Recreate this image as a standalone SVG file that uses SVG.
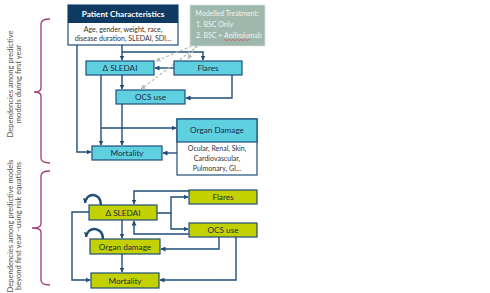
<svg xmlns="http://www.w3.org/2000/svg" width="490" height="293" viewBox="0 0 490 293">
<style>
.ln{fill:none;stroke:#1f4e79;stroke-width:1.4}
.ds{fill:none;stroke:#b3bfbb;stroke-width:1.2;stroke-dasharray:3 2}
.cy{fill:#5fd0e0;stroke:#1f4e79;stroke-width:1.2}
.yg{fill:#c3d100;stroke:#1f4e79;stroke-width:1.2}
.t{font-family:Lato,'Liberation Sans',sans-serif;font-size:8.2px;fill:#1a2e45;text-anchor:middle}
.s{font-family:Lato,'Liberation Sans',sans-serif;font-size:7px;fill:#333;text-anchor:middle}
.br{fill:none;stroke:#a33a74;stroke-width:1.3}
.v{font-family:Lato,'Liberation Sans',sans-serif;font-size:7.6px;fill:#555;text-anchor:middle}
</style>
<defs>
<marker id="a" markerWidth="5" markerHeight="5" refX="4.5" refY="2.5" orient="auto" markerUnits="userSpaceOnUse"><path d="M0,0L5,2.5L0,5z" fill="#1f4e79"/></marker>
<marker id="g" markerWidth="5" markerHeight="5" refX="4.5" refY="2.5" orient="auto" markerUnits="userSpaceOnUse"><path d="M0,0L5,2.5L0,5z" fill="#b3bfbb"/></marker>
</defs>
<rect width="490" height="293" fill="#fff"/>

<g id="braces">
<path class="br" d="M50,19 Q41,19 41,24 V88 Q41,92 34,92 Q41,92 41,96 V158 Q41,163 50,163"/>
<path class="br" d="M50,171 Q41,171 41,176 V224 Q41,228 32,228 Q41,228 41,232 V280 Q41,285 50,285"/>
<text class="v" transform="translate(13,84) rotate(-90)">Dependencies among predictive</text>
<text class="v" transform="translate(21,84) rotate(-90)">models during first year</text>
<text class="v" transform="translate(13,226) rotate(-90)">Dependencies among predictive models</text>
<text class="v" transform="translate(21,226) rotate(-90)">beyond first year –using risk equations</text>
</g>

<g id="connectors">
<path class="ln" d="M122,45 V60" marker-end="url(#a)"/>
<path class="ln" d="M122,52 H203 V60" marker-end="url(#a)"/>
<path class="ln" d="M77,45 V152 H91" marker-end="url(#a)"/>
<path class="ln" d="M174,68 H155" marker-end="url(#a)"/>
<path class="ln" d="M122,75 V89" marker-end="url(#a)"/>
<path class="ln" d="M232,75 V98 H186" marker-end="url(#a)"/>
<path class="ln" d="M101,75 V145" marker-end="url(#a)"/>
<path class="ln" d="M101,128 H176" marker-end="url(#a)"/>
<path class="ln" d="M122,104 V145" marker-end="url(#a)"/>
<path class="ln" d="M177,153 H163" marker-end="url(#a)"/>
<path class="ds" d="M192,46 L156,61" marker-end="url(#g)"/>
<path class="ds" d="M198,46 L141,89" marker-end="url(#g)"/>
<path class="ds" d="M196,46 L188,59" marker-end="url(#g)"/>
<path class="ln" style="stroke-width:2.4" d="M101,205 C101,192 86,192 85,203" marker-end="url(#a)"/>
<path class="ln" style="stroke-width:2.4" d="M103,239 C103,226 87,226 86,237" marker-end="url(#a)"/>
<path class="ln" d="M89,212 H72 V280 H90" marker-end="url(#a)"/>
<path class="ln" d="M122,220 V238" marker-end="url(#a)"/>
<path class="ln" d="M122,254 V272" marker-end="url(#a)"/>
<path class="ln" d="M189,191 H134 V204" marker-end="url(#a)"/>
<path class="ln" d="M157,213 H171 V197 H188" marker-end="url(#a)"/>
<path class="ln" d="M171,213 V229 H188" marker-end="url(#a)"/>
<path class="ln" d="M189,234 H134 V221" marker-end="url(#a)"/>
<path class="ln" d="M219,237 V249 H161" marker-end="url(#a)"/>
<path class="ln" d="M236,237 V280 H160" marker-end="url(#a)"/>
</g>

<g id="patient">
<rect x="68" y="5" width="110" height="40" fill="#fff" stroke="#1f4e79" stroke-width="1.2"/>
<rect x="68" y="5" width="110" height="18" fill="#0e3a62"/>
<text class="t" x="123" y="17" style="fill:#fff;font-weight:bold">Patient Characteristics</text>
<text class="s" x="123" y="32">Age, gender, weight, race,</text>
<text class="s" x="123" y="41">disease duration, SLEDAI, SDI…</text>
</g>

<g id="treatment">
<rect x="190" y="5" width="75" height="41" fill="#9fb8ae" stroke="#d8e0dc" stroke-width="0.8"/>
<text class="s" x="227" y="16" style="fill:#eef3f1">Modelled Treatment:</text>
<text class="s" x="196" y="27" style="fill:#eef3f1;text-anchor:start">1.  BSC Only</text>
<text class="s" x="196" y="38" style="fill:#eef3f1;text-anchor:start">2. BSC + Anifrolumab</text>
<path d="M224,40 q1,-1 2,0 t2,0 t2,0 t2,0 t2,0 t2,0 t2,0 t2,0 t2,0 t2,0 t2,0 t2,0 t2,0" fill="none" stroke="#d0505a" stroke-width="0.7"/>
</g>

<g id="sledai1"><rect class="cy" x="86" y="61" width="68" height="14"/><text class="t" x="120" y="71">Δ SLEDAI</text></g>
<g id="flares1"><rect class="cy" x="174" y="61" width="68" height="14"/><text class="t" x="208" y="71">Flares</text></g>
<g id="ocs1"><rect class="cy" x="116" y="90" width="69" height="14"/><text class="t" x="150.5" y="100">OCS use</text></g>
<g id="organ1">
<rect x="177" y="119" width="80" height="56" fill="#fff" stroke="#1f4e79" stroke-width="1.2"/>
<rect class="cy" x="177" y="119" width="80" height="23"/>
<text class="t" x="217" y="133">Organ Damage</text>
<text class="s" x="217" y="151">Ocular, Renal, Skin,</text>
<text class="s" x="217" y="161">Cardiovascular,</text>
<text class="s" x="217" y="171">Pulmonary, GI…</text>
</g>
<g id="mort1"><rect class="cy" x="92" y="146" width="70" height="14"/><text class="t" x="127" y="156">Mortality</text></g>

<g id="sledai2"><rect class="yg" x="89" y="205" width="68" height="15"/><text class="t" x="123" y="215.5">Δ SLEDAI</text></g>
<g id="flares2"><rect class="yg" x="189" y="190" width="68" height="14"/><text class="t" x="223" y="200">Flares</text></g>
<g id="ocs2"><rect class="yg" x="189" y="223" width="68" height="14"/><text class="t" x="223" y="233">OCS use</text></g>
<g id="organ2"><rect class="yg" x="90" y="239" width="70" height="15"/><text class="t" x="125" y="249.5">Organ damage</text></g>
<g id="mort2"><rect class="yg" x="91" y="273" width="68" height="15"/><text class="t" x="125" y="283.5">Mortality</text></g>
</svg>
